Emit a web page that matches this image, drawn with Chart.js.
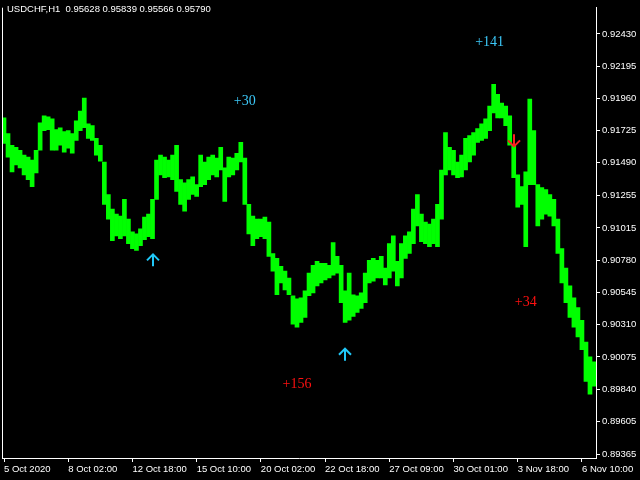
<!DOCTYPE html>
<html>
<head>
<meta charset="utf-8">
<title>USDCHF,H1</title>
<script src="https://cdn.jsdelivr.net/npm/chart.js@4.4.0/dist/chart.umd.min.js"></script>
<style>
  html, body { margin: 0; padding: 0; background: #000; }
  #wrap { width: 640px; height: 480px; }
</style>
</head>
<body>
<div id="wrap"><canvas id="chart"></canvas></div>
<script>
// Price data, one bar per 4 hours (high / low of each group)
const highs = [
  0.91818, 0.91704, 0.91618, 0.91603, 0.91582, 0.91546, 0.91532, 0.91510, 0.91582, 0.91782,
  0.91833, 0.91825, 0.91811, 0.91732, 0.91746, 0.91718, 0.91725, 0.91704, 0.91797, 0.91868,
  0.91962, 0.91775, 0.91761, 0.91668, 0.91618, 0.91496, 0.91259, 0.91152, 0.91116, 0.91101,
  0.91223, 0.91080, 0.90987, 0.90972, 0.91008, 0.91094, 0.91116, 0.91223, 0.91510, 0.91546,
  0.91532, 0.91510, 0.91546, 0.91618, 0.91367, 0.91345, 0.91367, 0.91388, 0.91331, 0.91546,
  0.91496, 0.91532, 0.91546, 0.91524, 0.91603, 0.91453, 0.91532, 0.91524, 0.91560, 0.91639,
  0.91524, 0.91187, 0.91101, 0.91080, 0.91080, 0.91094, 0.91058, 0.90829, 0.90793, 0.90736,
  0.90700, 0.90650, 0.90521, 0.90499, 0.90506, 0.90557, 0.90686, 0.90743, 0.90772, 0.90757,
  0.90757, 0.90743, 0.90908, 0.90808, 0.90743, 0.90557, 0.90686, 0.90528, 0.90521, 0.90542,
  0.90686, 0.90779, 0.90793, 0.90779, 0.90808, 0.90722, 0.90901, 0.90958, 0.90772, 0.90901,
  0.90958, 0.90987, 0.91152, 0.91259, 0.91116, 0.91058, 0.91044, 0.91080, 0.91187, 0.91438,
  0.91711, 0.91603, 0.91582, 0.91496, 0.91546, 0.91668, 0.91689, 0.91711, 0.91739, 0.91775,
  0.91811, 0.91904, 0.92062, 0.91990, 0.91926, 0.91904, 0.91833, 0.91618, 0.91402, 0.91316,
  0.91424, 0.91954, 0.91725, 0.91331, 0.91309, 0.91295, 0.91259, 0.91223, 0.91080, 0.90865,
  0.90722, 0.90593, 0.90506, 0.90435, 0.90342, 0.90184, 0.90076, 0.90040
];
const lows = [
  0.91632, 0.91532, 0.91424, 0.91474, 0.91453, 0.91402, 0.91367, 0.91316, 0.91417, 0.91582,
  0.91725, 0.91732, 0.91582, 0.91582, 0.91618, 0.91567, 0.91596, 0.91560, 0.91653, 0.91725,
  0.91746, 0.91668, 0.91653, 0.91546, 0.91503, 0.91187, 0.91080, 0.90922, 0.90958, 0.90937,
  0.90958, 0.90901, 0.90865, 0.90851, 0.90886, 0.90929, 0.90951, 0.90937, 0.91223, 0.91402,
  0.91381, 0.91388, 0.91367, 0.91281, 0.91187, 0.91137, 0.91223, 0.91259, 0.91245, 0.91316,
  0.91331, 0.91367, 0.91402, 0.91388, 0.91438, 0.91209, 0.91388, 0.91402, 0.91438, 0.91496,
  0.91187, 0.90972, 0.90886, 0.90937, 0.90951, 0.90937, 0.90808, 0.90700, 0.90528, 0.90614,
  0.90564, 0.90528, 0.90313, 0.90291, 0.90327, 0.90363, 0.90521, 0.90542, 0.90593, 0.90614,
  0.90636, 0.90650, 0.90671, 0.90686, 0.90471, 0.90327, 0.90342, 0.90370, 0.90399, 0.90428,
  0.90471, 0.90614, 0.90628, 0.90650, 0.90650, 0.90600, 0.90650, 0.90700, 0.90593, 0.90650,
  0.90793, 0.90829, 0.90901, 0.91030, 0.90915, 0.90901, 0.90879, 0.90901, 0.90879, 0.91080,
  0.91402, 0.91438, 0.91402, 0.91381, 0.91388, 0.91438, 0.91496, 0.91546, 0.91639, 0.91653,
  0.91668, 0.91725, 0.91854, 0.91818, 0.91818, 0.91761, 0.91618, 0.91381, 0.91166, 0.91187,
  0.90879, 0.91331, 0.91331, 0.91030, 0.91080, 0.91116, 0.91101, 0.91030, 0.90829, 0.90614,
  0.90471, 0.90363, 0.90291, 0.90220, 0.90127, 0.89897, 0.89804, 0.89861
];
const bars = highs.map((_, i) => String(i));

// Axis labels
const timeTicks = ['5 Oct 2020', '8 Oct 02:00', '12 Oct 18:00', '15 Oct 10:00', '20 Oct 02:00',
  '22 Oct 18:00', '27 Oct 09:00', '30 Oct 01:00', '3 Nov 18:00', '6 Nov 10:00'];
const priceTicks = [0.92430, 0.92195, 0.91960, 0.91725, 0.91490, 0.91255, 0.91015,
  0.90780, 0.90545, 0.90310, 0.90075, 0.89840, 0.89605, 0.89365];

// Header
const symbol = 'USDCHF,H1';
const ohlc = ['0.95628', '0.95839', '0.95566', '0.95790'];

// Signals
const signalText = ['+30', '+141', '+156', '+34'];
const signalBar = [60, 121, 73, 130];
const signalPrice = [0.91940, 0.92371, 0.89876, 0.90471];
const signalColor = ['#3cc8f8', '#3cc8f8', '#ff1010', '#ff1010'];
const upArrowBar = [37, 85];
const upArrowPrice = [0.90779, 0.90091];
const downArrowBar = [127];
const downArrowPrice = [0.91654];

const FONT = '"Liberation Sans", Arial, sans-serif';
const FONT_SIZE = 9.5;

function drawArrow(ctx, cx, cy, dir, color) {
    // dir -1 = up, 1 = down
    const tip = cy + dir * 6;
    ctx.strokeStyle = color;
    ctx.lineWidth = 2;
    ctx.beginPath();
    ctx.moveTo(cx, cy - dir * 6);
    ctx.lineTo(cx, tip);
    ctx.moveTo(cx - 6, tip - dir * 6);
    ctx.lineTo(cx, tip);
    ctx.lineTo(cx + 6, tip - dir * 6);
    ctx.stroke();
}

const overlay = {
    id: 'overlay',
    afterDraw(chart) {
        const { ctx, chartArea, scales: { x, y } } = chart;
        ctx.save();
        ctx.strokeStyle = '#fff';
        ctx.lineWidth = 1;
        ctx.beginPath();
        ctx.moveTo(chartArea.left + 0.5, chartArea.top);
        ctx.lineTo(chartArea.left + 0.5, chartArea.bottom);
        ctx.stroke();

        ctx.fillStyle = '#fff';
        ctx.font = FONT_SIZE + 'px ' + FONT;
        ctx.textBaseline = 'top';
        ctx.textAlign = 'left';
        ctx.fillText(symbol + '  ' + ohlc.join(' '), 7, 5);

        upArrowBar.forEach((b, i) => {
            drawArrow(ctx, Math.round(x.getPixelForValue(b)), y.getPixelForValue(upArrowPrice[i]), -1, '#20c8f8');
        });
        downArrowBar.forEach((b, i) => {
            drawArrow(ctx, Math.round(x.getPixelForValue(b)), y.getPixelForValue(downArrowPrice[i]), 1, '#ff2020');
        });

        ctx.font = '14px "Liberation Serif", serif';
        ctx.textAlign = 'center';
        ctx.textBaseline = 'middle';
        signalText.forEach((t, i) => {
            ctx.fillStyle = signalColor[i];
            ctx.fillText(t, x.getPixelForValue(signalBar[i]), y.getPixelForValue(signalPrice[i]));
        });
        ctx.restore();
    }
};

function createChart() {
    const ctx = document.getElementById('chart').getContext('2d');
    new Chart(ctx, {
        type: 'bar',
        data: {
            labels: bars,
            datasets: [{
                data: highs.map((h, i) => [lows[i], h]),
                backgroundColor: '#00ff00',
                borderWidth: 0,
                borderSkipped: false,
                barPercentage: 1,
                categoryPercentage: 1
            }]
        },
        options: {
            responsive: true,
            maintainAspectRatio: false,
            animation: false,
            layout: { padding: { left: 2, top: 0, right: 0, bottom: 0 } },
            plugins: { legend: { display: false }, tooltip: { enabled: false } },
            scales: {
                x: {
                    offset: true,
                    afterBuildTicks: a => { a.ticks = a.ticks.filter(t => t.value % 16 === 0); },
                    afterFit: a => { a.height = 22; },
                    grid: { drawOnChartArea: false, offset: false, color: '#fff', tickLength: 4 },
                    border: { color: '#fff' },
                    ticks: {
                        color: '#fff', autoSkip: false, maxRotation: 0, align: 'start', padding: 2,
                        font: { family: FONT, size: FONT_SIZE },
                        callback: v => timeTicks[v / 16]
                    }
                },
                y: {
                    position: 'right',
                    min: 0.89338,
                    max: 0.92621,
                    afterBuildTicks: a => { a.ticks = priceTicks.map(v => ({ value: v })); },
                    afterFit: a => { a.width = 44; },
                    grid: { drawOnChartArea: false, color: '#fff', tickLength: 4 },
                    border: { color: '#fff' },
                    ticks: {
                        color: '#fff', padding: 2,
                        font: { family: FONT, size: FONT_SIZE },
                        callback: v => v.toFixed(5)
                    }
                }
            }
        },
        plugins: [overlay]
    });
}

document.addEventListener('DOMContentLoaded', createChart);
</script>
</body>
</html>
